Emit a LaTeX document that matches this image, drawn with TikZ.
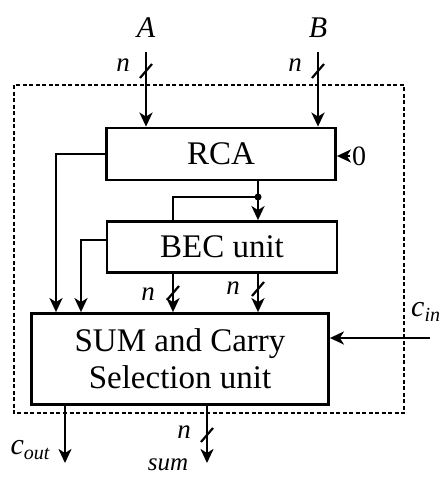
\documentclass[tikz,border=0pt]{standalone}
\usepackage{fontspec}
\setmainfont{Liberation Serif}
\usetikzlibrary{arrows.meta}
\begin{document}
\begin{tikzpicture}[x=1pt,y=-1pt,
  wire/.style={line width=2.8pt,-{Stealth[length=14pt,width=13pt,inset=4pt]}},
  plain/.style={line width=2.8pt},
  blk/.style={draw,line width=2.8pt,inner sep=0pt,align=center,font=\fontsize{33}{39}\selectfont},
  lbl/.style={inner sep=0pt,font=\fontsize{30}{34}\selectfont\itshape},
  nlbl/.style={inner sep=0pt,font=\fontsize{27}{30}\selectfont\itshape},
  tk/.pic={\draw[line width=2.2pt] (-6,7) -- (6,-7);}
]
\useasboundingbox (0,0) rectangle (444,477);
% dashed enclosure
\draw[line width=1.6pt,dash pattern=on 4pt off 2.5pt] (14,85) rectangle (404,413);
% blocks
\node[blk,minimum width=229pt,minimum height=52pt] (rca) at (221,154) {RCA};
\node[blk,minimum width=230pt,minimum height=51pt] (bec) at (222,247) {BEC unit};
\node[blk,minimum width=297pt,minimum height=91pt] (sum) at (180,359) {SUM and Carry\\[-2pt]Selection unit};
% inputs A, B
\node[lbl] (lA) at (146,28) {A};
\node[lbl] (lB) at (318,28) {B};
\coordinate (Ain) at (146,52);
\coordinate (Bin) at (318,52);
\draw[wire] (Ain) -- (Ain |- rca.north);
\draw[wire] (Bin) -- (Bin |- rca.north);
\pic at (146,71) {tk};
\pic at (318,71) {tk};
\node[nlbl] (nA) at (123,65) {n};
\node[nlbl] (nB) at (295,65) {n};
% zero input
\node[inner sep=0pt,font=\fontsize{28}{32}\selectfont] (zero) at (359,156) {0};
\draw[wire] (zero.west) ++(-2,0) coordinate (z0) -- (z0 -| rca.east);
% RCA left carry output
\coordinate (rl) at (56,154);
\draw[wire] (rca.west |- rl) -- (rl) -- (rl |- sum.north);
% RCA bottom output to BEC, with branch
\coordinate (rb) at (258,180);
\coordinate (jn) at (258,197);
\coordinate (br) at (173,197);
\draw[wire] (rb) -- (rb |- bec.north);
\draw[plain] (jn) -- (br) -- (br |- bec.north);
\fill (jn) circle (3.5pt);
% BEC left output
\coordinate (bl) at (81,240);
\draw[wire] (bec.west |- bl) -- (bl) -- (bl |- sum.north);
% BEC bottom outputs
\coordinate (b1) at (173,273);
\coordinate (b2) at (258,273);
\draw[wire] (b1) -- (b1 |- sum.north);
\draw[wire] (b2) -- (b2 |- sum.north);
\pic at (173,293) {tk};
\pic at (258,289) {tk};
\node[nlbl] (n1) at (148,294) {n};
\node[nlbl] (n2) at (233,288) {n};
% c_in
\coordinate (cin) at (430,338);
\draw[wire] (cin) -- (cin -| sum.east);
\node[anchor=west,inner sep=0pt,font=\fontsize{30}{34}\selectfont\itshape] (lcin) at (411,312) {c\raisebox{-5pt}{\fontsize{20}{24}\selectfont in}};
% c_out
\coordinate (co) at (65,405);
\coordinate (coe) at (65,463);
\draw[wire] (co) -- (coe);
\node[inner sep=0pt,font=\fontsize{30}{34}\selectfont\itshape] (lcout) at (30,450) {c\raisebox{-5pt}{\fontsize{20}{24}\selectfont out}};
% sum
\coordinate (so) at (207,405);
\coordinate (soe) at (207,463);
\draw[wire] (so) -- (soe);
\pic at (207,435) {tk};
\node[nlbl] (ns) at (184,432) {n};
\node[inner sep=0pt,font=\fontsize{25}{28}\selectfont\itshape] (lsum) at (168,465) {sum};
\end{tikzpicture}
\end{document}
